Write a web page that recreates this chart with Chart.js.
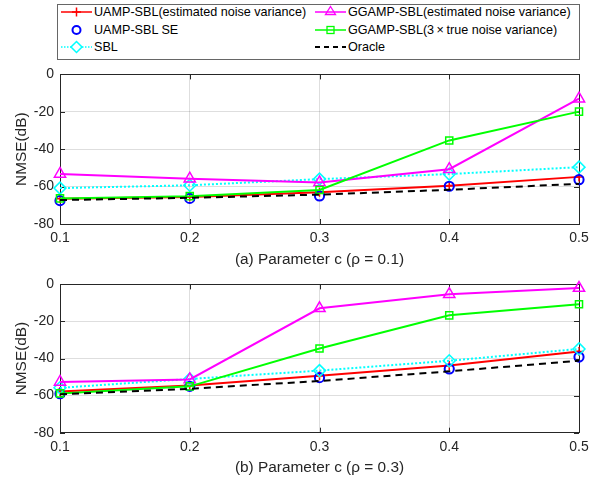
<!DOCTYPE html>
<html>
<head>
<meta charset="utf-8">
<script src="https://cdn.jsdelivr.net/npm/chart.js@4"></script>
<style>
  html, body { margin:0; padding:0; background:#fff; }
  body { width:604px; height:482px; position:relative; overflow:hidden; font-family:"Liberation Sans", Arial, sans-serif; }
  .panel { position:absolute; left:0; width:604px; }
  #legend { position:absolute; left:57px; top:4px; width:521px; height:54px; border:1px solid #666; background:#fff; }
  .item { position:absolute; height:16px; line-height:16px; font-size:12.6px; color:#000; white-space:nowrap; }
  .item svg { position:absolute; left:0; top:0; }
  .item span { position:absolute; top:0; }
</style>
</head>
<body>
<div id="legend"></div>
<div class="panel" style="top:60px;height:210px;"><canvas id="c1" width="604" height="210"></canvas></div>
<div class="panel" style="top:270px;height:212px;"><canvas id="c2" width="604" height="212"></canvas></div>
<script>
// ---- data ----
const categories = ['0.1', '0.2', '0.3', '0.4', '0.5'];
const yTicks = [0, -20, -40, -60, -80];
const seriesNames = [
  'UAMP-SBL(estimated noise variance)',
  'UAMP-SBL SE',
  'SBL',
  'GGAMP-SBL(estimated noise variance)',
  'GGAMP-SBL(3\u2009\u00d7\u2009true noise variance)',
  'Oracle'
];
// panel (a) rho = 0.1
const uampA   = [-66.5, -65.5, -63.0, -59.6, -54.8];
const seA     = [-67.5, -66.3, -65.0, -59.8, -56.3];
const sblA    = [-60.8, -59.3, -56.0, -53.3, -49.6];
const ggEstA  = [-53.2, -55.8, -57.8, -50.7, -13.0];
const gg3A    = [-66.3, -65.1, -61.8, -35.3, -19.9];
const oracleA = [-67.2, -66.0, -64.3, -61.7, -58.5];
// panel (b) rho = 0.3
const uampB   = [-57.8, -54.5, -49.3, -43.8, -36.2];
const seB     = [-59.0, -55.0, -50.3, -45.6, -39.2];
const sblB    = [-55.8, -51.0, -46.5, -41.2, -34.8];
const ggEstB  = [-52.6, -51.3, -12.9, -5.3, -2.0];
const gg3B    = [-58.8, -55.0, -34.6, -16.7, -10.7];
const oracleB = [-59.3, -56.3, -52.1, -46.9, -41.2];
const titleA = '(a) Parameter c (\u03c1 = 0.1)';
const titleB = '(b) Parameter c (\u03c1 = 0.3)';

const FONT = '"Liberation Sans", Arial, sans-serif';
const AXC = '#262626';

function makeDatasets(u, se, sbl, ge, g3, or) {
  return [
    { label: seriesNames[0], data: u, borderColor: '#ff0000', backgroundColor: '#ff0000', borderWidth: 2,
      pointStyle: 'cross', pointRadius: 4.5, pointBorderWidth: 1.5, order: 5 },
    { label: seriesNames[1], data: se, borderColor: '#0000ff', backgroundColor: 'rgba(0,0,0,0)', showLine: false,
      pointStyle: 'circle', pointRadius: 4.6, pointBorderWidth: 2, order: 4 },
    { label: seriesNames[2], data: sbl, borderColor: '#00ffff', backgroundColor: 'rgba(0,0,0,0)', borderWidth: 2,
      borderDash: [2, 2], pointStyle: 'rectRot', pointRadius: 6, pointBorderWidth: 1.5, order: 3 },
    { label: seriesNames[3], data: ge, borderColor: '#ff00ff', backgroundColor: 'rgba(0,0,0,0)', borderWidth: 2,
      pointStyle: 'triangle', pointRadius: 6.5, pointBorderWidth: 1.5, order: 2 },
    { label: seriesNames[4], data: g3, borderColor: '#00ff00', backgroundColor: 'rgba(0,0,0,0)', borderWidth: 2,
      pointStyle: 'rect', pointRadius: 5, pointBorderWidth: 1.5, order: 1 },
    { label: seriesNames[5], data: or, borderColor: '#000000', backgroundColor: '#000', borderWidth: 2,
      borderDash: [7, 5], pointRadius: 0, order: 0 }
  ].map(d => Object.assign({ clip: false, tension: 0, fill: false }, d));
}

const framePlugin = {
  id: 'frame',
  beforeDatasetsDraw(chart) {
    const { ctx, chartArea: a, scales } = chart;
    ctx.save();
    ctx.strokeStyle = AXC;
    ctx.lineWidth = 1;
    ctx.strokeRect(Math.round(a.left) + 0.5, Math.round(a.top) + 0.5,
      Math.round(a.right - a.left), Math.round(a.bottom - a.top));
    const tl = 5;
    ctx.beginPath();
    scales.x.ticks.forEach((t, i) => {
      const x = Math.round(scales.x.getPixelForTick(i)) + 0.5;
      ctx.moveTo(x, a.bottom); ctx.lineTo(x, a.bottom - tl);
      ctx.moveTo(x, a.top); ctx.lineTo(x, a.top + tl);
    });
    scales.y.ticks.forEach((t, i) => {
      const y = Math.round(scales.y.getPixelForTick(i)) + 0.5;
      ctx.moveTo(a.left, y); ctx.lineTo(a.left + tl, y);
      ctx.moveTo(a.right, y); ctx.lineTo(a.right - tl, y);
    });
    ctx.stroke();
    ctx.restore();
  }
};

function makeChart(id, datasets, title, topPad, xHeight, titleBottomPad) {
  return new Chart(document.getElementById(id), {
    type: 'line',
    data: { labels: categories, datasets },
    options: {
      responsive: false,
      animation: false,
      events: [],
      layout: { padding: { top: topPad, right: 25, bottom: 0, left: 0 } },
      plugins: { legend: { display: false }, tooltip: { enabled: false } },
      scales: {
        x: {
          type: 'category',
          offset: false,
          grid: { color: 'rgba(0,0,0,0.13)', drawTicks: false, offset: false },
          border: { display: false },
          ticks: { color: AXC, font: { family: FONT, size: 14 }, padding: 6, maxRotation: 0, autoSkip: false },
          title: { display: true, text: title, color: AXC, font: { family: FONT, size: 15.4 },
                   padding: { top: 0, bottom: titleBottomPad } },
          afterFit: s => { s.height = xHeight; }
        },
        y: {
          min: -80, max: 0,
          afterBuildTicks: s => { s.ticks = yTicks.slice().reverse().map(v => ({ value: v })); },
          grid: { color: 'rgba(0,0,0,0.13)', drawTicks: false },
          border: { display: false },
          ticks: { color: AXC, font: { family: FONT, size: 14 }, padding: 6 },
          title: { display: true, text: 'NMSE(dB)', color: AXC, font: { family: FONT, size: 15.4 },
                   padding: { top: 12.5, bottom: 0 } },
          afterFit: s => { s.width = 60; }
        }
      }
    },
    plugins: [framePlugin]
  });
}

makeChart('c1', makeDatasets(uampA, seA, sblA, ggEstA, gg3A, oracleA), titleA, 14.3, 46, 1.5);
makeChart('c2', makeDatasets(uampB, seB, sblB, ggEstB, gg3B, oracleB), titleB, 11.7, 49.3, 4.8);

// ---- legend (HTML) ----
const icons = [
  '<line x1="0" y1="8" x2="31" y2="8" stroke="#ff0000" stroke-width="1.5"/><line x1="15.5" y1="3.5" x2="15.5" y2="12.5" stroke="#ff0000" stroke-width="1.5"/><line x1="11" y1="8" x2="20" y2="8" stroke="#ff0000" stroke-width="1.5"/>',
  '<circle cx="15.5" cy="8" r="4" fill="none" stroke="#0000ff" stroke-width="2"/>',
  '<line x1="0" y1="8" x2="31" y2="8" stroke="#00ffff" stroke-width="1.5" stroke-dasharray="1.5,1.5"/><polygon points="15.5,2.5 21,8 15.5,13.5 10,8" fill="#fff" stroke="#00ffff" stroke-width="1.5"/>',
  '<line x1="0" y1="8" x2="31" y2="8" stroke="#ff00ff" stroke-width="1.5"/><polygon points="15.5,2.5 20.5,10.5 10.5,10.5" fill="none" stroke="#ff00ff" stroke-width="1.3"/>',
  '<line x1="0" y1="8" x2="31" y2="8" stroke="#00ff00" stroke-width="1.5"/><rect x="12" y="4.5" width="7" height="7" fill="none" stroke="#00ff00" stroke-width="1.3"/>',
  '<line x1="0" y1="8" x2="31" y2="8" stroke="#000" stroke-width="1.8" stroke-dasharray="5,4"/>'
];
const legendPos = [[3, 11], [3, 28.5], [3, 46], [257, 11], [257, 28.5], [257, 46]];
const lg = document.getElementById('legend');
seriesNames.forEach((n, i) => {
  const d = document.createElement('div');
  d.className = 'item';
  d.style.left = legendPos[i][0] + 'px';
  d.style.top = (legendPos[i][1] - 8 - 4) + 'px';
  d.innerHTML = '<svg width="32" height="16" viewBox="0 0 32 16">' + icons[i] + '</svg><span style="left:33px">' + n + '</span>';
  lg.appendChild(d);
});
</script>
</body>
</html>
